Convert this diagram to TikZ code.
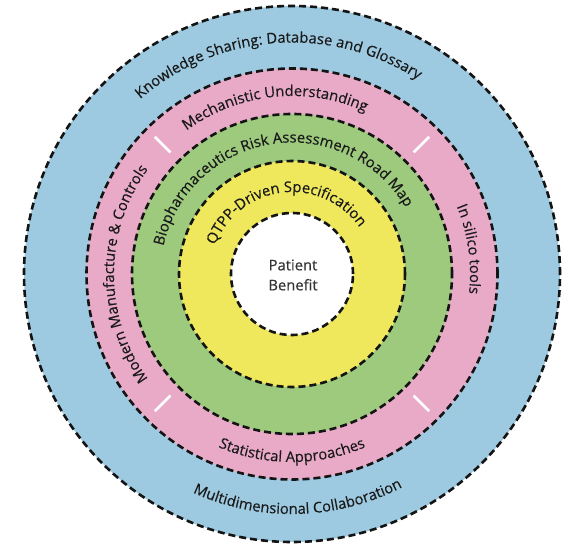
\documentclass[tikz,border=0pt]{standalone}
\usepackage{fontspec}
\setmainfont{Open Sans}
\newfontfamily\ringfam[FakeBold=0.35]{Open Sans}
\usetikzlibrary{decorations.text}
\definecolor{ringblue}{HTML}{9DCAE1}
\definecolor{ringpink}{HTML}{E9AAC8}
\definecolor{ringgreen}{HTML}{9DCA7D}
\definecolor{ringyellow}{HTML}{F0E85C}
\definecolor{txt}{HTML}{1A1A1A}
\definecolor{centertxt}{HTML}{333333}
\newcommand\ringfont{\ringfam\fontsize{14.8}{17}\selectfont\color{txt}}
% clockwise arc text (tops outward): radius, centre angle, half span, text
\newcommand\cwtext[4]{%
  \path[decorate, decoration={text along path, text align=center, text={|\ringfont|#4}}]
    (C) ++({#2+#3}:#1) arc[start angle={#2+#3}, end angle={#2-#3}, radius=#1];}
% counter-clockwise arc text (tops inward)
\newcommand\ccwtext[4]{%
  \path[decorate, decoration={text along path, text align=center, text={|\ringfont|#4}}]
    (C) ++({#2-#3}:#1) arc[start angle={#2-#3}, end angle={#2+#3}, radius=#1];}
\begin{document}
\begin{tikzpicture}[x=1pt, y=1pt,
  ring/.style={line width=2.6pt, dash pattern=on 7pt off 4pt, draw=black!92},
  sep/.style={draw=white, line width=2.5pt}]
\useasboundingbox (0,0) rectangle (570,544);
\fill[white] (0,0) rectangle (570,544);
\coordinate (C) at (292,270);
% rings
\filldraw[ring, fill=ringblue]   (C) circle[radius=268];
\filldraw[ring, fill=ringpink]   (C) circle[radius=205.5];
\filldraw[ring, fill=ringgreen]  (C) circle[radius=160];
\filldraw[ring, fill=ringyellow] (C) circle[radius=113];
\filldraw[ring, fill=white]      (C) circle[radius=61];
% separators in pink ring
\foreach \a in {45,135,225,315}
  \draw[sep] (C) ++(\a:172) -- ++(\a:22);
% ring texts
\cwtext{231.5}{94}{88}{Knowledge Sharing: Database and Glossary}
\cwtext{178}{96}{88}{Mechanistic Understanding}
\cwtext{131.5}{99}{88}{Biopharmaceutics Risk Assessment Road Map}
\cwtext{82}{97}{88}{QTPP-Driven Specification}
\cwtext{178}{180}{88}{Modern Manufacture {\&} Controls}
\cwtext{178}{8}{88}{In silico tools}
\ccwtext{188}{270}{88}{Statistical Approaches}
\ccwtext{240}{271.5}{88}{Multidimensional Collaboration}
% centre
\node[align=center, text=centertxt, font=\ringfam\fontsize{14.8}{20}\selectfont] (pb) at (293,269) {Patient\\Benefit};
\end{tikzpicture}
\end{document}
